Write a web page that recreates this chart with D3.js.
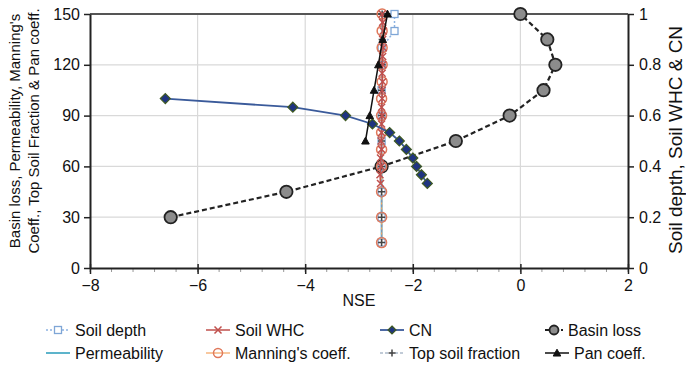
<!DOCTYPE html>
<html><head><meta charset="utf-8">
<script src="https://cdn.jsdelivr.net/npm/d3@7"></script>
<style>
html,body{margin:0;padding:0;background:#fff;}
svg{display:block;font-family:"Liberation Sans",Arial,sans-serif;}
</style></head>
<body><svg id="c" width="686" height="366"></svg>
<script>
// ---- data (NSE on x; values on left or right axis) ----
const xTicks = [-8,-6,-4,-2,0,2];
const yLeftTicks = [0,30,60,90,120,150];
const yRightTicks = [0,0.2,0.4,0.6,0.8,1];

const basinNSE = [-6.5,-4.35,-2.58,-1.2,-0.2,0.43,0.65,0.5,0];
const basinVal = [30,45,60,75,90,105,120,135,150];

const cnNSE = [-6.6,-4.23,-3.25,-2.75,-2.43,-2.25,-2.12,-2.0,-1.93,-1.84,-1.73];
const cnVal = [0.667,0.633,0.6,0.567,0.533,0.5,0.467,0.433,0.4,0.367,0.333];

const panNSE = [-2.88,-2.8,-2.72,-2.64,-2.56,-2.47];
const panVal = [75,90,105,120,135,150];

const whcNSE = [-2.6,-2.61,-2.59,-2.6,-2.58,-2.59,-2.58,-2.58,-2.57,-2.58,-2.57,-2.57,-2.56,-2.57,-2.56,-2.56,-2.55,-2.56,-2.55,-2.56,-2.57];
const whcVal = [0.333,0.367,0.4,0.433,0.467,0.5,0.533,0.567,0.6,0.633,0.667,0.7,0.733,0.767,0.8,0.833,0.867,0.9,0.933,0.967,1.0];

const sdNSE = [-2.58,-2.58,-2.58,-2.58,-2.58,-2.58,-2.58,-2.58,-2.58,-2.34,-2.34];
const sdVal = [0.1,0.2,0.3,0.4,0.5,0.6,0.7,0.8,0.867,0.933,1.0];

const permNSE = [-2.58,-2.58,-2.58,-2.58,-2.58,-2.58,-2.57,-2.57,-2.57,-2.57];
const permVal = [15,30,45,60,75,90,105,120,135,150];

const manNSE = [-2.58,-2.58,-2.58,-2.58,-2.58,-2.58,-2.58,-2.58,-2.57,-2.57,-2.57,-2.57,-2.57];
const manVal = [15,30,45,60,70,80,90,100,110,120,130,140,150];

const tsfNSE = [-2.58,-2.58,-2.58,-2.58,-2.58,-2.58,-2.58,-2.57,-2.57,-2.57];
const tsfVal = [15,30,45,60,75,90,105,120,135,150];

const legendNames = ["Soil depth","Soil WHC","CN","Basin loss","Permeability","Manning's coeff.","Top soil fraction","Pan coeff."];

// ---- layout ----
const svg = d3.select("#c");
const L = 90, R = 628, T = 14, B = 268;
const x = d3.scaleLinear().domain([-8,2]).range([L,R]);
const yL = d3.scaleLinear().domain([0,150]).range([B,T]);
const yR = d3.scaleLinear().domain([0,1]).range([B,T]);

// grid
const g = svg.append("g");
g.selectAll(".gh").data(yLeftTicks.filter(v=>v>0&&v<150)).enter().append("line")
  .attr("x1",L).attr("x2",R).attr("y1",d=>yL(d)).attr("y2",d=>yL(d))
  .attr("stroke","#d9d9d9").attr("stroke-width",1.2);
g.selectAll(".gv").data(xTicks.filter(v=>v>-8&&v<2)).enter().append("line")
  .attr("y1",T).attr("y2",B).attr("x1",d=>x(d)).attr("x2",d=>x(d))
  .attr("stroke","#d9d9d9").attr("stroke-width",1.2);
// top border
svg.append("line").attr("x1",L).attr("x2",R).attr("y1",T).attr("y2",T).attr("stroke","#555").attr("stroke-width",2);

// minor x ticks
const minor = d3.range(-8,2.001,0.4);
svg.append("g").selectAll("line").data(minor).enter().append("line")
  .attr("x1",d=>x(d)).attr("x2",d=>x(d)).attr("y1",B).attr("y2",B+4)
  .attr("stroke","#999").attr("stroke-width",1);

// axes
const fs = 16;
const ax = svg.append("g").attr("transform",`translate(0,${B})`)
  .call(d3.axisBottom(x).tickValues(xTicks).tickSize(6).tickSizeOuter(0).tickFormat(d3.format("d")));
const ayl = svg.append("g").attr("transform",`translate(${L},0)`)
  .call(d3.axisLeft(yL).tickValues(yLeftTicks).tickSize(6).tickSizeOuter(0));
const ayr = svg.append("g").attr("transform",`translate(${R},0)`)
  .call(d3.axisRight(yR).tickValues(yRightTicks).tickSize(6).tickSizeOuter(0).tickFormat(d=>d3.format("")(+d.toFixed(1))));
[ax,ayl,ayr].forEach(a=>{
  a.selectAll("text").attr("font-size",fs).attr("fill","#111").attr("font-family","Liberation Sans, Arial, sans-serif");
  a.select(".domain").attr("stroke","#222").attr("stroke-width",2);
  a.selectAll(".tick line").attr("stroke","#222").attr("stroke-width",1.5);
});
ax.selectAll(".tick line").attr("y1",-4);
ax.selectAll("text").attr("dy","0.9em");
ayl.selectAll("text").attr("dx","-1px");
ayr.selectAll("text").attr("dx","2px");

// axis titles
svg.append("text").attr("x",(L+R)/2).attr("y",306).attr("text-anchor","middle")
  .attr("font-size",fs).attr("fill","#111").text("NSE");
const lt = svg.append("text").attr("transform","translate(20,131) rotate(-90)")
  .attr("text-anchor","middle").attr("font-size",15).attr("fill","#111");
lt.append("tspan").attr("x",0).attr("dy",0).text("Basin loss, Permeability, Manning's");
lt.append("tspan").attr("x",0).attr("dy",19).text("Coeff., Top Soil Fraction & Pan coeff.");
svg.append("text").attr("transform","translate(682,254) rotate(-90)")
  .attr("text-anchor","start").attr("font-size",19).attr("fill","#111").text("Soil depth, Soil WHC & CN");

// ---- helpers ----
const zip = (a,b)=>a.map((v,i)=>[v,b[i]]);
function series(nse, vals, ys, style){
  const pts = zip(nse, vals);
  const line = d3.line().x(d=>x(d[0])).y(d=>ys(d[1]));
  svg.append("path").datum(pts).attr("d",line).attr("fill","none")
    .attr("stroke",style.line).attr("stroke-width",style.lw||1.5)
    .attr("stroke-dasharray",style.dash||null);
  const gm = svg.append("g");
  pts.forEach(p=>drawMarker(gm, x(p[0]), ys(p[1]), style));
}
function drawMarker(gm, cx, cy, s){
  const m = s.marker;
  if(m==="circle"){
    gm.append("circle").attr("cx",cx).attr("cy",cy).attr("r",s.r||4)
      .attr("fill",s.fill).attr("stroke",s.mstroke).attr("stroke-width",s.msw||1.5);
  } else if(m==="square"){
    const h=s.r||3.5;
    gm.append("rect").attr("x",cx-h).attr("y",cy-h).attr("width",2*h).attr("height",2*h)
      .attr("fill",s.fill).attr("stroke",s.mstroke).attr("stroke-width",1.3);
  } else if(m==="diamond"){
    const h=s.r||5;
    gm.append("path").attr("d",`M${cx},${cy-h}L${cx+h},${cy}L${cx},${cy+h}L${cx-h},${cy}Z`)
      .attr("fill",s.fill).attr("stroke",s.mstroke).attr("stroke-width",1.2);
  } else if(m==="triangle"){
    const h=s.r||4;
    gm.append("path").attr("d",`M${cx},${cy-h}L${cx+h},${cy+h*0.8}L${cx-h},${cy+h*0.8}Z`)
      .attr("fill",s.fill).attr("stroke",s.mstroke).attr("stroke-width",1);
  } else if(m==="x"){
    const h=s.r||3.5;
    gm.append("path").attr("d",`M${cx-h},${cy-h}L${cx+h},${cy+h}M${cx-h},${cy+h}L${cx+h},${cy-h}`)
      .attr("stroke",s.mstroke).attr("stroke-width",1.5);
  } else if(m==="plus"){
    const h=s.r||3.5;
    gm.append("path").attr("d",`M${cx-h},${cy}L${cx+h},${cy}M${cx},${cy-h}L${cx},${cy+h}`)
      .attr("stroke",s.mstroke).attr("stroke-width",1.5);
  }
}

const styles = {
  sd:   {line:"#8db3e2", dash:"2,2", lw:1.5, marker:"square", fill:"#fff", mstroke:"#7fa6d6", r:3.5},
  whc:  {line:"#c0504d", lw:1.5, marker:"x", mstroke:"#c0504d", r:3.5},
  cn:   {line:"#3a5a9a", lw:1.8, marker:"diamond", fill:"#1f3480", mstroke:"#3f5a22", r:5},
  basin:{line:"#222", dash:"5,3", lw:2.2, marker:"circle", fill:"#8c8c8c", mstroke:"#222", r:6.2, msw:1.8},
  perm: {line:"#4bacc6", lw:1.8},
  man:  {line:"#f4a460", lw:1.2, marker:"circle", fill:"none", mstroke:"#e0785a", r:5},
  tsf:  {line:"#8497b0", dash:"3,2", lw:1.2, marker:"plus", mstroke:"#444", r:3.5},
  pan:  {line:"#111", lw:1.5, marker:"triangle", fill:"#111", mstroke:"#111", r:3.8}
};

// draw
series(basinNSE, basinVal, yL, styles.basin);
series(permNSE, permVal, yL, styles.perm);
series(sdNSE, sdVal, yR, styles.sd);
series(manNSE, manVal, yL, styles.man);
series(tsfNSE, tsfVal, yL, styles.tsf);
series(whcNSE, whcVal, yR, styles.whc);
series(cnNSE, cnVal, yR, styles.cn);
series(panNSE, panVal, yL, styles.pan);

// ---- legend ----
const legStyles = [styles.sd, styles.whc, styles.cn, styles.basin, styles.perm, styles.man, styles.tsf, styles.pan];
const colX = [46, 206, 380, 545];
const rowY = [330, 353];
const lg = svg.append("g");
legendNames.forEach((name,i)=>{
  const cx = colX[i%4], cy = rowY[Math.floor(i/4)];
  const s = legStyles[i];
  const w = (i===3)? 18 : 24;
  lg.append("line").attr("x1",cx).attr("x2",cx+w).attr("y1",cy).attr("y2",cy)
    .attr("stroke",s.line).attr("stroke-width",s.lw||1.5).attr("stroke-dasharray",s.dash||null);
  if(s.marker){
    const ms = Object.assign({}, s, {r: s.marker==="circle" ? Math.min(s.r,4.5) : Math.min(s.r||4,4)});
    drawMarker(lg, cx+w/2, cy, ms);
  }
  lg.append("text").attr("x",cx+w+5).attr("y",cy).attr("dy","0.35em")
    .attr("font-size",fs).attr("fill","#111").text(name);
});
</script></body></html>
